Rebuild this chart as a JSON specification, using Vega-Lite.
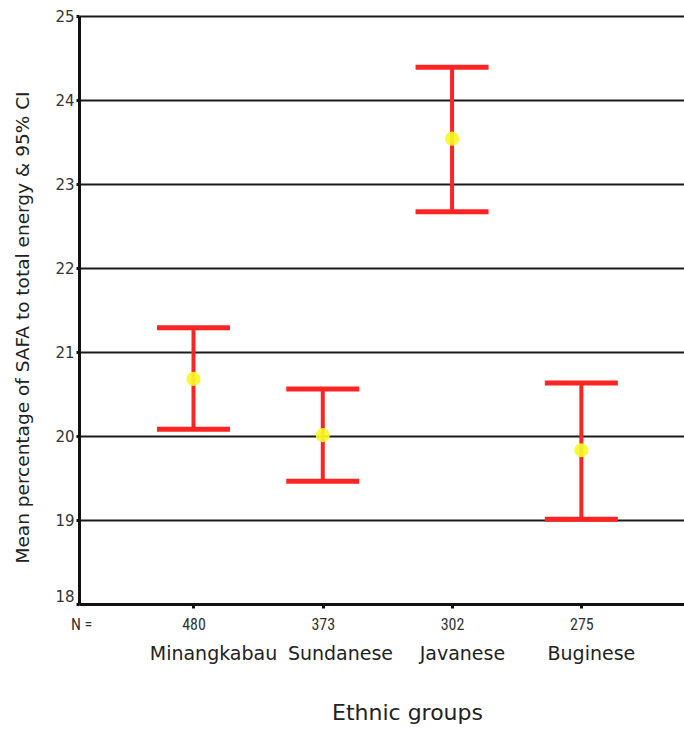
{
  "$schema": "https://vega.github.io/schema/vega-lite/v6.json",
  "width": 605,
  "height": 588,
  "autosize": "none",
  "padding": {"left": 79, "top": 16, "right": 0, "bottom": 125},
  "background": "white",
  "config": {"view": {"stroke": null}},
  "data": {
    "values": [
      {"group": "Minangkabau", "idx": 1, "n": 480, "mean": 20.68, "lower": 20.08, "upper": 21.29},
      {"group": "Sundanese", "idx": 2, "n": 373, "mean": 20.01, "lower": 19.46, "upper": 20.56},
      {"group": "Javanese", "idx": 3, "n": 302, "mean": 23.54, "lower": 22.67, "upper": 24.39},
      {"group": "Buginese", "idx": 4, "n": 275, "mean": 19.83, "lower": 19.01, "upper": 20.63}
    ]
  },
  "layer": [
    {
      "mark": {"type": "rule", "strokeWidth": 4, "color": "#ff2424"},
      "encoding": {
        "x": {
          "field": "idx", "type": "quantitative",
          "scale": {"domain": [0.1145, 4.794], "nice": false, "zero": false},
          "axis": {
            "orient": "bottom",
            "title": null,
            "grid": false,
            "values": [0.13, 1, 2, 3, 4],
            "labelExpr": "datum.value < 0.5 ? 'N =' : ['', '480', '373', '302', '275'][round(datum.value)]",
            "labelFont": "Liberation Sans Narrow, Roboto Condensed, Liberation Sans",
            "labelFontSize": 16,
            "labelColor": "#333333",
            "labelBaseline": "alphabetic",
            "labelPadding": 21,
            "labelFlush": false,
            "labelOverlap": false,
            "tickSize": 4,
            "tickWidth": 3,
            "tickColor": "#111111",
            "tickOpacity": {"condition": {"test": "datum.value < 0.5", "value": 0}, "value": 1},
            "domainColor": "#111111",
            "domainWidth": 3
          }
        },
        "y": {
          "field": "lower", "type": "quantitative",
          "title": "Mean percentage of SAFA to total energy  & 95% CI",
          "scale": {"domain": [18, 25], "nice": false, "zero": false},
          "axis": {
            "values": [18, 19, 20, 21, 22, 23, 24, 25],
            "format": "d",
            "grid": true,
            "gridColor": "#1a1a1a",
            "gridWidth": 2,
            "gridOpacity": 1,
            "domainColor": "#111111",
            "domainWidth": 3,
            "tickSize": 3,
            "tickWidth": 3,
            "tickColor": "#111111",
            "labelFont": "DejaVu Sans",
            "labelFontSize": 15,
            "labelColor": "#333333",
            "labelPadding": 2,
            "labelFlush": false,
            "labelOverlap": false,
            "labelBaseline": {"condition": {"test": "datum.value == 18", "value": "bottom"}, "value": "middle"},
            "titleFont": "DejaVu Sans",
            "titleFontSize": 18.5,
            "titleFontWeight": "normal",
            "titleColor": "#222222",
            "titleAngle": -90,
            "titleAlign": "center",
            "titleBaseline": "alphabetic",
            "titleX": -51,
            "titleY": 311
          }
        },
        "y2": {"field": "upper"}
      }
    },
    {
      "transform": [{"fold": ["lower", "upper"], "as": ["bound", "val"]}],
      "mark": {"type": "tick", "orient": "horizontal", "size": 73, "thickness": 5, "color": "#ff2424", "opacity": 1},
      "encoding": {
        "x": {
          "field": "idx", "type": "quantitative",
          "axis": {
            "orient": "bottom",
            "domain": false,
            "ticks": false,
            "tickSize": 0,
            "grid": false,
            "values": [1.151, 2.133, 3.076, 4.074],
            "labelExpr": "['', 'Minangkabau', 'Sundanese', 'Javanese', 'Buginese'][round(datum.value)]",
            "labelFont": "DejaVu Sans",
            "labelFontSize": 19,
            "labelColor": "#222222",
            "labelBaseline": "alphabetic",
            "labelPadding": 55,
            "labelFlush": false,
            "labelOverlap": false,
            "title": "Ethnic groups",
            "titleFont": "DejaVu Sans",
            "titleFontSize": 22,
            "titleFontWeight": "normal",
            "titleColor": "#222222",
            "titleAlign": "center",
            "titleBaseline": "alphabetic",
            "titleX": 328,
            "titleY": 115
          }
        },
        "y": {"field": "val", "type": "quantitative", "title": "Mean percentage of SAFA to total energy  & 95% CI"}
      }
    },
    {
      "mark": {"type": "point", "filled": true, "size": 200, "color": "#f8f82a", "opacity": 0.92},
      "encoding": {
        "x": {"field": "idx", "type": "quantitative", "axis": null},
        "y": {"field": "mean", "type": "quantitative", "title": "Mean percentage of SAFA to total energy  & 95% CI"}
      }
    }
  ],
  "resolve": {"axis": {"x": "independent"}}
}
